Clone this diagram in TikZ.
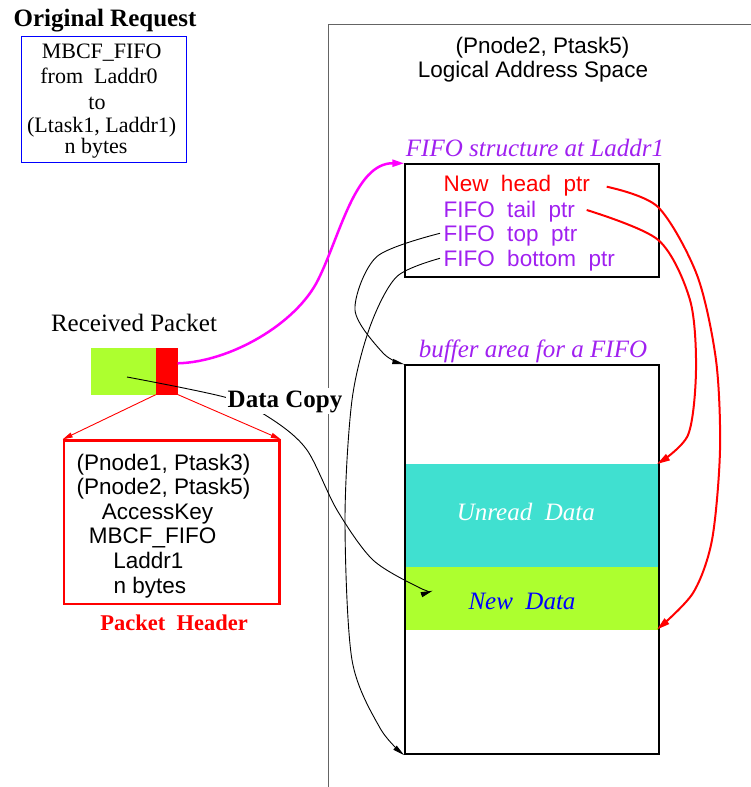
\documentclass[tikz,border=0pt]{standalone}
\usepackage{fontspec}
\setmainfont{Liberation Serif}
\setsansfont{Liberation Sans}
\usetikzlibrary{arrows.meta}
\definecolor{fifopurple}{RGB}{160,32,240}
\definecolor{unreadcyan}{RGB}{64,224,208}
\definecolor{newgreen}{RGB}{173,255,47}
\definecolor{spacegray}{RGB}{100,100,100}
\definecolor{copymagenta}{RGB}{255,0,255}
\begin{document}
\begin{tikzpicture}[x=1pt,y=-1pt,
  txt/.style={anchor=base,inner sep=0pt},
  serifL/.style={txt,font=\fontsize{25}{30}\selectfont},
  serifM/.style={txt,font=\fontsize{22}{26}\selectfont},
  serifB/.style={txt,font=\bfseries\fontsize{25}{30}\selectfont},
  serifI/.style={txt,font=\itshape\fontsize{25}{30}\selectfont},
  sansM/.style={txt,font=\sffamily\fontsize{22.5}{27}\selectfont},
  ptrtxt/.style={sansM,anchor=base west},
  box/.style={inner sep=0pt,anchor=north west},
  tipblk/.style={-{Triangle[length=12pt,width=5pt]}},
  tipred/.style={-{Triangle[length=13pt,width=7pt]}},
  tipmag/.style={-{Triangle[length=12pt,width=7pt]}},
  tiphdr/.style={-{Triangle[length=10pt,width=5pt]}},
  thinblk/.style={black,line width=0.9pt,tipblk},
  thickred/.style={red,line width=2pt,tipred}]
\useasboundingbox (0,0) rectangle (751,787);

% logical address space of (Pnode2, Ptask5)
\draw[spacegray,line width=1.3pt] (328.5,787) -- (328.5,24.5) -- (751,24.5);
\node[sansM] (spaceline1) at (542.5,53) {(Pnode2, Ptask5)};
\node[sansM] (spaceline2) at (533,77.5) {Logical Address Space};

% original request
\node[serifB] (origtitle) at (105,27) {Original Request};
\node[box,draw=blue,line width=1pt,minimum width=165,minimum height=126] (reqbox) at (21,36) {};
\node[serifM] (rq1) at (101.7,58.3) {MBCF\_FIFO};
\node[serifM] (rq2) at (99,83.3) {from\ \ Laddr0};
\node[serifM] (rq3) at (97,109) {to};
\node[serifM] (rq4) at (101.7,132.3) {(Ltask1, Laddr1)};
\node[serifM] (rq5) at (96,153.3) {n bytes};

% received packet
\node[serifL] (rptitle) at (134,331.7) {Received Packet};
\node[box,fill=newgreen,minimum width=65,minimum height=47] (pkdata) at (90.7,347.3) {};
\node[box,fill=red,minimum width=22,minimum height=47] (pkhead) at (155.7,347.3) {};

% packet header
\node[box,draw=red,line width=2.5pt,minimum width=215.6,minimum height=163.4] (hdrbox) at (62.7,439.3) {};
\draw[red,line width=0.9pt,tiphdr] (pkhead.south west) -- (hdrbox.north west);
\draw[red,line width=0.9pt,tiphdr] (pkhead.south east) -- (hdrbox.north east);
\node[sansM] (h1) at (163.5,470) {(Pnode1, Ptask3)};
\node[sansM] (h2) at (163.5,494) {(Pnode2, Ptask5)};
\node[sansM] (h3) at (157.5,519.3) {AccessKey};
\node[sansM] (h4) at (152.7,543.3) {MBCF\_FIFO};
\node[sansM] (h5) at (148.3,568.3) {Laddr1};
\node[sansM] (h6) at (150,593.3) {n bytes};
\node[serifB,red,font=\bfseries\fontsize{22.5}{27}\selectfont] (hdrlabel) at (174,630.7) {Packet\ \ Header};

% FIFO structure
\node[serifI,fifopurple] (fifotitle) at (535,156) {FIFO structure at Laddr1};
\node[box,draw,line width=1.8pt,minimum width=254,minimum height=112.4] (fifobox) at (404.3,163.3) {};
\node[ptrtxt,red] (headptr) at (443.3,191.7) {New\ \ head\ \ ptr};
\node[ptrtxt,fifopurple] (tailptr) at (443.3,217.3) {FIFO\ \ tail\ \ ptr};
\node[ptrtxt,fifopurple] (topptr) at (443.3,241) {FIFO\ \ top\ \ ptr};
\node[ptrtxt,fifopurple] (botptr) at (443.3,266.7) {FIFO\ \ bottom\ \ ptr};

% buffer area
\node[serifI,fifopurple] (buftitle) at (533,357.7) {buffer area for a FIFO};
\node[box,fill=unreadcyan,minimum width=253,minimum height=103.4] (unread) at (405,463.3) {};
\node[box,fill=newgreen,minimum width=253,minimum height=62.6] (newdata) at (405,566.7) {};
\node[box,draw,line width=2pt,minimum width=254,minimum height=389] (bufbox) at (404.3,364.3) {};
\node[serifI,white] (unreadtxt) at (525.8,520.7) {Unread\ \ Data};
\node[serifI,blue] (newtxt) at (522,609.3) {New\ \ Data};

% connector end points
\coordinate (magstart) at (177.7,363.3);
\coordinate (magmid) at (318,280);
\coordinate (dcstart) at (127,377);
\coordinate (dcend) at (432.7,590.7);
\coordinate (headstart) at (606.7,186.7);
\coordinate (headend) at (657,629.5);
\coordinate (tailstart) at (586.7,210);
\coordinate (tailend) at (657,464);
\coordinate (topstart) at (440,233.3);
\coordinate (botstart) at (440,258.3);

% packet to FIFO structure
\draw[copymagenta,line width=2.5pt,tipmag] (magstart)
  .. controls (230,362) and (296,324) .. (magmid)
  .. controls (340,236) and (355,163) .. (fifobox.north west);

% data copy into the buffer
\draw[thinblk] plot[smooth] coordinates {(dcstart) (228,398) (273,420) (307,450) (337,510) (373,560) (420,588) (dcend)};

% pointers
\draw[thickred] plot[smooth] coordinates {(headstart) (658,207) (697,275) (716,360) (720,450) (712,540) (693,593) (headend)};
\draw[thickred] plot[smooth] coordinates {(tailstart) (658.3,240) (690,300) (696,370) (688,435) (tailend)};
\draw[thinblk] plot[smooth] coordinates {(topstart) (376.7,256.7) (355,310) (383.3,353.3) (bufbox.north west)};
\draw[thinblk] plot[smooth] coordinates {(botstart) (396.7,276.7) (370,326.7) (352,400) (345,520) (352,660) (380,728) (bufbox.south west)};

% label over the copy path
\node[serifB,fill=white,inner sep=2pt] (datacopy) at (285,407) {Data Copy};
\end{tikzpicture}
\end{document}
